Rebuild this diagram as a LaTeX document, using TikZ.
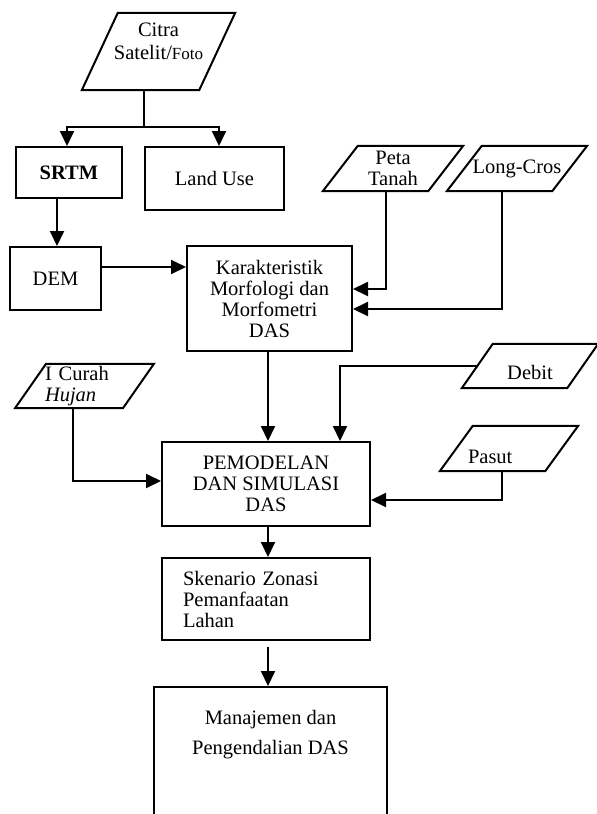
\documentclass[tikz,border=0pt]{standalone}
\usepackage{fontspec}
\setmainfont{Liberation Serif}
\usetikzlibrary{arrows.meta}

\tikzset{
  line/.style={line width=2pt},
  box/.style={draw, line width=2pt, inner sep=0pt, align=center,
    font=\fontsize{20.5}{21}\selectfont},
  % parallelogram for input data, #1 = half of the slant
  datain/.style={rectangle, inner sep=0pt, minimum height=45pt, align=center,
    font=\fontsize{20.5}{20.5}\selectfont,
    append after command={\pgfextra{
      \draw[line] ([xshift=-#1]\tikzlastnode.south west) -- ([xshift=-#1]\tikzlastnode.south east)
        -- ([xshift=#1]\tikzlastnode.north east) -- ([xshift=#1]\tikzlastnode.north west) -- cycle;}}},
  arr/.style={line width=2pt, -{Triangle[length=15pt,width=14pt]}}
}

\begin{document}
\begin{tikzpicture}[x=1pt,y=-1pt]
\useasboundingbox (0,0) rectangle (597,814);
\clip (0,0) rectangle (597,814);

%input data
\node[datain=18pt, minimum width=117pt, minimum height=77pt,
  font=\fontsize{20.5}{23}\selectfont] (citra) at (158.5,51.5)
  {Citra\\Satelit/{\fontsize{17}{17}\selectfont Foto}\\[-3pt]\mbox{}};
\node[datain=17.5pt, minimum width=105pt] (peta) at (393,168.5) {Peta\\Tanah};
\node[datain=17.5pt, minimum width=105pt] (longcros) at (517,168.5) {Long-Cros};
\node[datain=15.5pt, minimum width=107.5pt, minimum height=44pt, text width=79pt, align=left,
  font=\fontsize{20.5}{21}\selectfont] (hujan) at (84.5,386)
  {I Curah\\\textit{Hujan}};
\node[datain=15.5pt, minimum width=105pt, minimum height=44pt, text height=27pt] (debit) at (530,366) {Debit};
\node[datain=16.5pt, minimum width=105pt, text width=82pt, align=left, text height=31pt] (pasut) at (509,448.5) {Pasut};

%process boxes
\node[box, minimum width=106pt, minimum height=51pt] (srtm) at (69,172.5) {\textbf{SRTM}};
\node[box, minimum width=139pt, minimum height=63pt] (landuse) at (214.5,178.5) {Land Use};
\node[box, minimum width=91pt, minimum height=63pt] (dem) at (55.5,278.5) {DEM};
\node[box, minimum width=165pt, minimum height=105pt] (kar) at (269.5,298.5)
  {Karakteristik\\Morfologi dan\\Morfometri\\DAS};
\node[box, minimum width=208pt, minimum height=84pt] (pemod) at (266,484)
  {PEMODELAN\\DAN SIMULASI\\DAS};
\node[box, minimum width=208pt, minimum height=82pt, text width=166pt, align=left] (sken) at (266,599)
  {Skenario Zonasi\\Pemanfaatan\\Lahan};
\node[box, anchor=north, minimum width=233pt, inner ysep=23pt, text depth=120pt,
  font=\fontsize{20.5}{30}\selectfont] (manaj) at (270.5,686)
  {Manajemen dan\\Pengendalian DAS};

%citra split
\draw[line] ([xshift=-14.5pt]citra.south) -- ++(0,37) coordinate (split);
\draw[arr] (split) -| ([xshift=-2pt]srtm.north);
\draw[arr] (split) -| ([xshift=4.5pt]landuse.north);

\draw[arr] ([xshift=1.5pt]dem.north |- srtm.south) -- ([xshift=1.5pt]dem.north);
\draw[arr] ([yshift=11.5pt]dem.east) -- ([yshift=11.5pt]dem.east -| kar.west);

%into karakteristik
\draw[arr] ([xshift=-7pt]peta.south) |- ([yshift=9.5pt]kar.east);
\draw[arr] ([xshift=-15pt]longcros.south) |- ([yshift=-10.5pt]kar.east);

%into pemodelan
\draw[arr] ([xshift=-1.5pt]kar.south) -- ([xshift=-1.5pt]kar.south |- pemod.north);
\draw[arr] ([xshift=-11.5pt]hujan.south) |- ([yshift=3pt]pemod.west);
\draw[arr] (debit.west) -| ([xshift=74pt]pemod.north);
\draw[arr] ([xshift=-7pt]pasut.south) |- ([yshift=-16pt]pemod.east);

%down the chain
\draw[arr] ([xshift=2pt]pemod.south) -- ([xshift=2pt]sken.north);
\draw[arr] ([xshift=2pt,yshift=-6pt]sken.south) -- ([xshift=2pt]sken.south |- manaj.north);

\end{tikzpicture}
\end{document}
